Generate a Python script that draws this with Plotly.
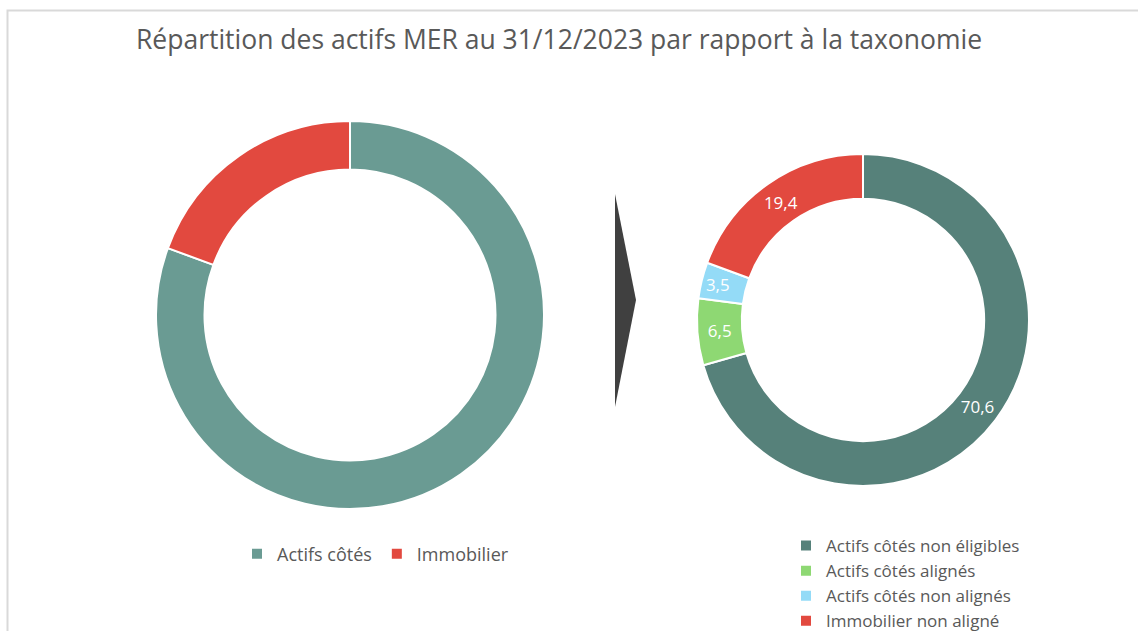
import plotly.graph_objects as go

W, H = 1138, 631

# left donut
left_labels = ["Actifs côtés", "Immobilier"]
left_values = [80.6, 19.4]
left_colors = ["#6A9B93", "#E2493F"]

# right donut
right_labels = ["Actifs côtés non éligibles", "Actifs côtés alignés",
                "Actifs côtés non alignés", "Immobilier non aligné"]
right_values = [70.6, 6.5, 3.5, 19.4]
right_colors = ["#56817A", "#8ED873", "#94DBF7", "#E2493F"]

GREY = "#595959"
FONT = "Open Sans"


def px_x(x):
    return x / W


def px_y(y):
    return 1 - y / H


def box(cx, cy, r):
    # pie domain around a centre given in pixels
    return dict(x=[px_x(cx - r), px_x(cx + r)], y=[px_y(cy + r), px_y(cy - r)])


fig = go.Figure()

fig.add_trace(go.Pie(
    labels=left_labels,
    values=left_values,
    marker=dict(colors=left_colors, line=dict(color="white", width=2)),
    hole=0.75,
    sort=False,
    direction="clockwise",
    textinfo="none",
    hoverinfo="label+value",
    domain=box(350, 315, 194),
    legend="legend",
))

fig.add_trace(go.Pie(
    labels=right_labels,
    values=right_values,
    marker=dict(colors=right_colors, line=dict(color="white", width=2)),
    hole=0.73,
    sort=False,
    direction="clockwise",
    texttemplate="%{value:.1f}",
    textposition="inside",
    insidetextorientation="horizontal",
    textfont=dict(color="white", size=17, family=FONT),
    hoverinfo="label+value",
    domain=box(863, 320, 166),
    legend="legend2",
))

fig.update_layout(
    width=W,
    height=H,
    # legend 2 sits right at the bottom edge, keep it from pushing the margins
    margin=dict(l=0, r=0, t=0, b=0, autoexpand=False),
    paper_bgcolor="white",
    plot_bgcolor="white",
    separators=", ",
    font=dict(family=FONT, color=GREY, size=18),
    title=dict(
        text="Répartition des actifs MER au 31/12/2023 par rapport à la taxonomie",
        x=px_x(559), xanchor="center",
        y=px_y(40), yanchor="middle",
        font=dict(size=26.5, color=GREY, family=FONT),
    ),
    legend=dict(
        orientation="h",
        x=px_x(237), xanchor="left",
        y=px_y(554), yanchor="middle",
        font=dict(size=18, color=GREY),
        bgcolor="rgba(0,0,0,0)",
    ),
    legend2=dict(
        orientation="v",
        x=px_x(786), xanchor="left",
        y=px_y(528), yanchor="top",
        font=dict(size=17, color=GREY),
        bgcolor="rgba(0,0,0,0)",
    ),
    shapes=[
        # chart area border
        dict(type="rect", xref="paper", yref="paper",
             x0=px_x(7.5), x1=1.02, y0=-0.02, y1=px_y(10.5),
             line=dict(color="#D9D9D9", width=2), fillcolor="rgba(0,0,0,0)"),
        # arrow between the donuts
        dict(type="path", xref="paper", yref="paper",
             path=f"M {px_x(615)},{px_y(194)} L {px_x(636)},{px_y(300)} "
                  f"L {px_x(615)},{px_y(407)} Z",
             fillcolor="#404040", line=dict(width=0)),
    ],
)

fig.write_html(
    "out.html",
    config={"displayModeBar": False},
    post_script="document.body.style.margin='0';document.body.style.overflow='hidden';",
)
